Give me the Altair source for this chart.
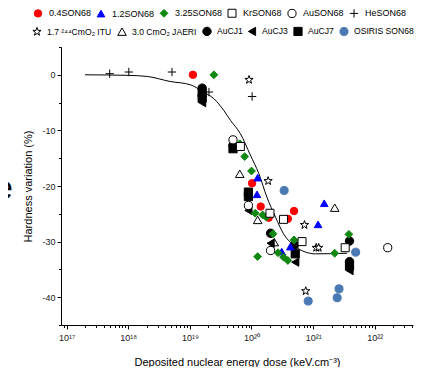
import json
import altair as alt
import pandas as pd

# ---------------- data ----------------
series = ["0.4SON68", "1.2SON68", "3.25SON68", "KrSON68", "AuSON68", "HeSON68",
          "1.7 ²⁴⁴CmO₂ ITU", "3.0 CmO₂ JAERI", "AuCJ1", "AuCJ3", "AuCJ7", "OSIRIS SON68"]

# x values given as log10(dose in keV.cm^-3)
s04_logx = [19.05, 20.01, 20.15, 20.28, 20.69, 20.59]
s04_y = [0.0, -19.5, -23.7, -25.7, -24.5, -25.9]

s12_logx = [20.10, 20.09, 20.49, 20.63, 21.18, 21.08]
s12_y = [-18.5, -21.5, -31.8, -30.9, -23.1, -26.9]

s325_logx = [19.39, 19.81, 19.89, 20.00, 20.06, 20.18, 20.24, 20.35, 20.10, 20.43, 20.52, 20.59, 20.69, 21.35, 21.58]
s325_y = [0.0, -12.4, -14.7, -17.3, -24.9, -25.2, -25.6, -28.6, -32.7, -32.0, -32.8, -33.4, -29.7, -32.1, -28.7]

kr_logx = [19.82, 20.30, 20.52, 20.82, 21.52]
kr_y = [-12.9, -24.9, -26.0, -30.0, -31.1]

au_logx = [19.70, 19.95, 20.31, 22.21]
au_y = [-11.7, -23.5, -31.6, -31.1]

he_logx = [17.70, 18.01, 18.71, 19.31, 20.01]
he_y = [0.2, 0.5, 0.5, -3.1, -3.9]

cmitu_logx = [19.96, 20.27, 20.86, 21.05, 21.09, 20.88]
cmitu_y = [-0.9, -19.1, -27.0, -31.1, -31.1, -38.9]

cmjaeri_logx = [19.81, 20.10, 20.37, 21.35]
cmjaeri_y = [-17.8, -26.1, -30.1, -23.9]

aucj1_logx = [19.20, 19.70, 20.31, 20.70, 21.59, 21.59]
aucj1_y = [-2.4, -12.7, -28.5, -30.6, -29.9, -33.6]

aucj3_logx = [19.20, 19.95, 20.31, 20.71, 21.59]
aucj3_y = [-5.0, -24.4, -30.3, -33.7, -35.2]

aucj7_logx = [19.20, 19.20, 19.70, 19.95, 19.95, 20.71, 21.59]
aucj7_y = [-3.3, -4.2, -13.3, -21.1, -21.9, -32.2, -34.4]

osiris_logx = [20.53, 20.92, 21.39, 21.42, 21.69]
osiris_y = [-20.8, -40.7, -40.1, -38.5, -31.9]

# fitted curve
curve_logx = [17.30, 18.00, 18.31, 18.68, 19.01, 19.22, 19.39, 19.55, 19.66, 19.82,
              19.98, 20.12, 20.25, 20.39, 20.52, 20.69, 20.88, 21.04, 21.55]
curve_y = [0.0, -0.1, -0.3, -1.2, -1.8, -3.1, -4.3, -6.4, -8.2, -10.6,
           -14.4, -17.8, -22.0, -25.6, -28.6, -30.7, -31.9, -32.2, -32.1]

x_tick_labels = ["10¹⁷", "10¹⁸", "10¹⁹", "10²⁰", "10²¹", "10²²"]
y_tick_values = [-45, -40, -35, -30, -25, -20, -15, -10, -5, 0, 5]

# ---------------- styles ----------------
PLUS = "M-1,0H1M0,-1V1"
STAR = ("M0,-1L0.235,-0.324L0.951,-0.309L0.38,0.124L0.588,0.809L0,0.4"
        "L-0.588,0.809L-0.38,0.124L-0.951,-0.309L-0.235,-0.324Z")
shapes = ["circle", "triangle-up", "diamond", "square", "circle", PLUS,
          STAR, "triangle-up", "circle", "triangle-left", "square", "circle"]
fills = ["#ff0000", "#0000ff", "#118811", "white", "white", "white",
         "white", "white", "black", "black", "black", "#4a79b4"]
strokes = ["#ff0000", "#0000ff", "#118811", "black", "black", "black",
           "black", "black", "black", "black", "black", "#4a79b4"]
sizes = [55, 70, 75, 45, 45, 64, 75, 65, 45, 50, 40, 55]

all_x = [s04_logx, s12_logx, s325_logx, kr_logx, au_logx, he_logx,
         cmitu_logx, cmjaeri_logx, aucj1_logx, aucj3_logx, aucj7_logx, osiris_logx]
all_y = [s04_y, s12_y, s325_y, kr_y, au_y, he_y,
         cmitu_y, cmjaeri_y, aucj1_y, aucj3_y, aucj7_y, osiris_y]

rows = []
for name, xs, ys in zip(series, all_x, all_y):
    for lx, v in zip(xs, ys):
        rows.append({"series": name, "dose": 10 ** lx, "hv": v})
points = pd.DataFrame(rows)
curve = pd.DataFrame({"dose": [10 ** v for v in curve_logx], "hv": curve_y})

x_tick_values = [m * 10.0 ** e for e in range(16, 23) for m in range(1, 10)
                 if 10 ** 16.91 <= m * 10.0 ** e <= 10 ** 22.62]

FONT = "Liberation Sans"
decade_test = "abs(log(datum.value)/LN10 - round(log(datum.value)/LN10)) < 0.01"
x_label_expr = (f"{decade_test} ? {json.dumps(x_tick_labels, ensure_ascii=False)}"
                f"[round(log(datum.value)/LN10) - 17] : ''")

x_scale = alt.Scale(type="log", domain=[10 ** 16.91, 10 ** 22.62], nice=False)
y_scale = alt.Scale(domain=[-45, 5], nice=False, zero=False)

x_axis = alt.Axis(
    values=x_tick_values, labelExpr=x_label_expr,
    tickSize={"condition": {"test": decade_test, "value": 4}, "value": 2.5},
    labelOverlap=False, labelFlush=False, grid=False,
    domainColor="black", tickColor="black", labelColor="#222",
    labelFont=FONT, labelFontSize=9, labelPadding=4,
    title="Deposited nuclear energy dose (keV.cm⁻³)",
    titleFont=FONT, titleFontSize=11, titleFontWeight="normal",
    titleColor="black", titlePadding=14,
)
y_axis = alt.Axis(
    values=y_tick_values,
    labelExpr="datum.value % 10 == 0 ? '' + datum.value : ''",
    tickSize={"condition": {"test": "datum.value % 10 == 0", "value": 4}, "value": 2.5},
    labelOverlap=False, labelFlush=False, grid=False,
    domainColor="black", tickColor="black", labelColor="#222",
    labelFont=FONT, labelFontSize=9, labelPadding=2,
    title="Hardness variation (%)",
    titleFont=FONT, titleFontSize=11, titleFontWeight="normal",
    titleColor="black", titlePadding=8,
)


def legend(x, y, offset, colpad, fsize):
    return alt.Legend(
        orient="none", legendX=x, legendY=y, direction="horizontal",
        columns=6, columnPadding=colpad, labelFont=FONT, labelFontSize=fsize,
        labelColor="black", labelOffset=offset, labelLimit=300, title=None,
        padding=0, symbolStrokeWidth=1, symbolOpacity=1,
    )


def point_layer(idx, leg):
    names = [series[i] for i in idx]
    sub = points[points["series"].isin(names)]
    return alt.Chart(sub).mark_point(filled=True, opacity=1, strokeWidth=1).encode(
        x=alt.X("dose:Q", scale=x_scale, axis=x_axis),
        y=alt.Y("hv:Q", scale=y_scale, axis=y_axis),
        shape=alt.Shape("series:N", scale=alt.Scale(domain=names, range=[shapes[i] for i in idx]), legend=leg),
        fill=alt.Fill("series:N", scale=alt.Scale(domain=names, range=[fills[i] for i in idx]), legend=leg),
        stroke=alt.Stroke("series:N", scale=alt.Scale(domain=names, range=[strokes[i] for i in idx]), legend=leg),
        size=alt.Size("series:N", scale=alt.Scale(domain=names, range=[sizes[i] for i in idx]), legend=leg),
    )


line = alt.Chart(curve).mark_line(color="black", strokeWidth=1, interpolate="monotone").encode(
    x=alt.X("dose:Q", scale=x_scale, axis=x_axis),
    y=alt.Y("hv:Q", scale=y_scale, axis=y_axis),
)

pts_a = point_layer(range(0, 6), legend(-28, -39, 6, 3, 9))
pts_b = point_layer(range(6, 12), legend(-29, -21, 5, 3, 8.6))

stray = alt.Chart(pd.DataFrame({"t": ["e"]})).mark_text(
    text="e", fontSize=34, font=FONT, align="right", baseline="alphabetic", color="black"
).encode(x=alt.value(-48), y=alt.value(152))

chart = alt.layer(line, pts_b, pts_a, stray).resolve_scale(
    shape="independent", fill="independent", stroke="independent", size="independent"
).properties(
    width=352, height=278,
    padding={"left": 53, "top": 39, "right": 6, "bottom": 42},
    autosize=alt.AutoSizeParams(type="none"),
).configure_view(stroke=None)

chart.save("out.html", embed_options={"renderer": "svg", "actions": False})
